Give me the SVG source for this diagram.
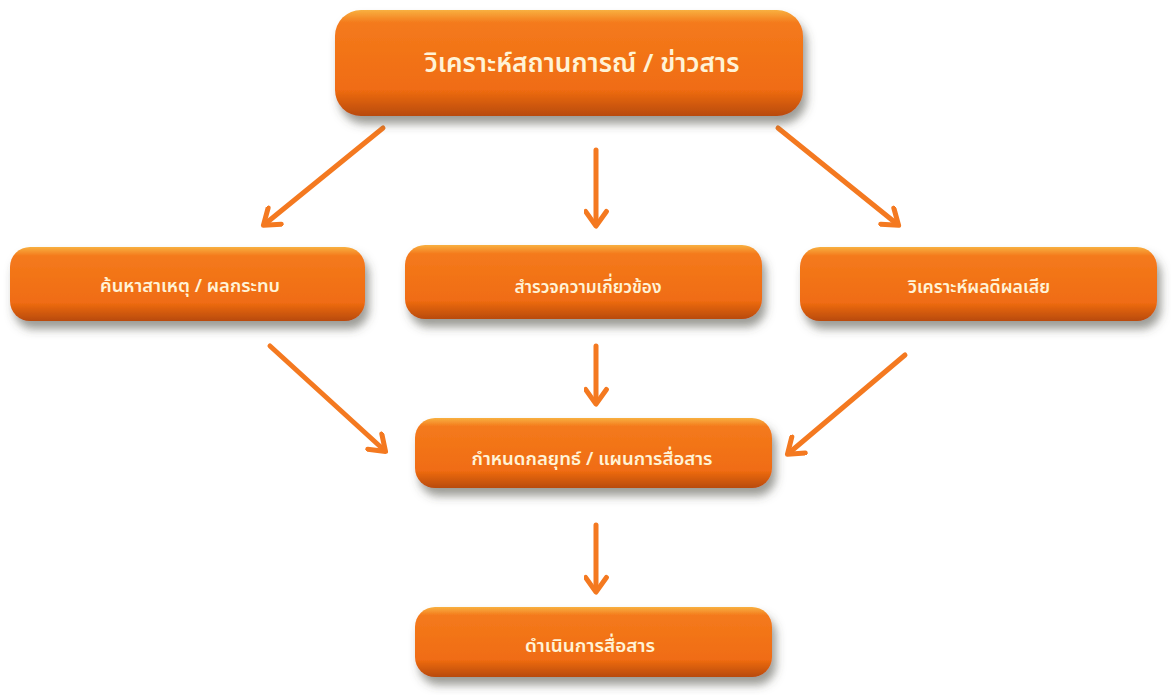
<svg xmlns="http://www.w3.org/2000/svg" width="1171" height="695" viewBox="0 0 1171 695">
<defs>
<linearGradient id="g" x1="0" y1="0" x2="0" y2="1">
<stop offset="0" stop-color="#f8b040"/>
<stop offset="0.12" stop-color="#f47a1c"/>
<stop offset="0.75" stop-color="#f06c12"/>
<stop offset="1" stop-color="#b84a0a"/>
</linearGradient>
<filter id="sh" x="-10%" y="-20%" width="125%" height="160%">
<feGaussianBlur in="SourceAlpha" stdDeviation="5"/>
<feOffset dx="4" dy="8" result="b"/>
<feFlood flood-color="#4a4a40" flood-opacity="0.55"/>
<feComposite in2="b" operator="in"/>
<feMerge><feMergeNode/><feMergeNode in="SourceGraphic"/></feMerge>
</filter>
<marker id="ah" viewBox="0 0 12 12" refX="8" refY="6" markerWidth="5" markerHeight="5" orient="auto" markerUnits="strokeWidth">
<path d="M2,1 L9,6 L2,11" fill="none" stroke="#f47920" stroke-width="2.4" stroke-linecap="round" stroke-linejoin="round"/>
</marker>
</defs>
<style>
.box{fill:url(#g);filter:url(#sh)}
.t{font-family:"Noto Sans Thai","Noto Sans","Liberation Sans",sans-serif;font-weight:600;fill:#fff3d6;text-anchor:middle;dominant-baseline:central}
.c{stroke:#f47920;stroke-width:5;fill:none;stroke-linecap:round;marker-end:url(#ah)}
</style>
<rect width="1171" height="695" fill="#ffffff"/>
<g id="connectors">
<line class="c" x1="383" y1="128" x2="265" y2="224"/>
<line class="c" x1="596" y1="150" x2="596" y2="224"/>
<line class="c" x1="778" y1="128" x2="897" y2="224"/>
<line class="c" x1="270" y1="346" x2="384" y2="450"/>
<line class="c" x1="596" y1="346" x2="596" y2="402"/>
<line class="c" x1="905" y1="355" x2="789" y2="453"/>
<line class="c" x1="596" y1="525" x2="596" y2="590"/>
</g>
<g id="n1"><rect class="box" x="335" y="10" width="468" height="106" rx="26"/><text class="t" x="582" y="64" font-size="26" textLength="315" lengthAdjust="spacingAndGlyphs">วิเคราะห์สถานการณ์ / ข่าวสาร</text></g>
<g id="n2"><rect class="box" x="10" y="247" width="355" height="74" rx="20"/><text class="t" x="190" y="286" font-size="18" textLength="180" lengthAdjust="spacingAndGlyphs">ค้นหาสาเหตุ / ผลกระทบ</text></g>
<g id="n3"><rect class="box" x="405" y="245" width="357" height="74" rx="20"/><text class="t" x="588" y="287" font-size="18" textLength="147" lengthAdjust="spacingAndGlyphs">สำรวจความเกี่ยวข้อง</text></g>
<g id="n4"><rect class="box" x="800" y="247" width="357" height="74" rx="20"/><text class="t" x="979" y="287" font-size="18" textLength="142" lengthAdjust="spacingAndGlyphs">วิเคราะห์ผลดีผลเสีย</text></g>
<g id="n5"><rect class="box" x="415" y="418" width="357" height="70" rx="20"/><text class="t" x="592" y="459" font-size="18" textLength="241" lengthAdjust="spacingAndGlyphs">กำหนดกลยุทธ์ / แผนการสื่อสาร</text></g>
<g id="n6"><rect class="box" x="415" y="607" width="357" height="70" rx="20"/><text class="t" x="590" y="646" font-size="18" textLength="130" lengthAdjust="spacingAndGlyphs">ดำเนินการสื่อสาร</text></g>
</svg>
